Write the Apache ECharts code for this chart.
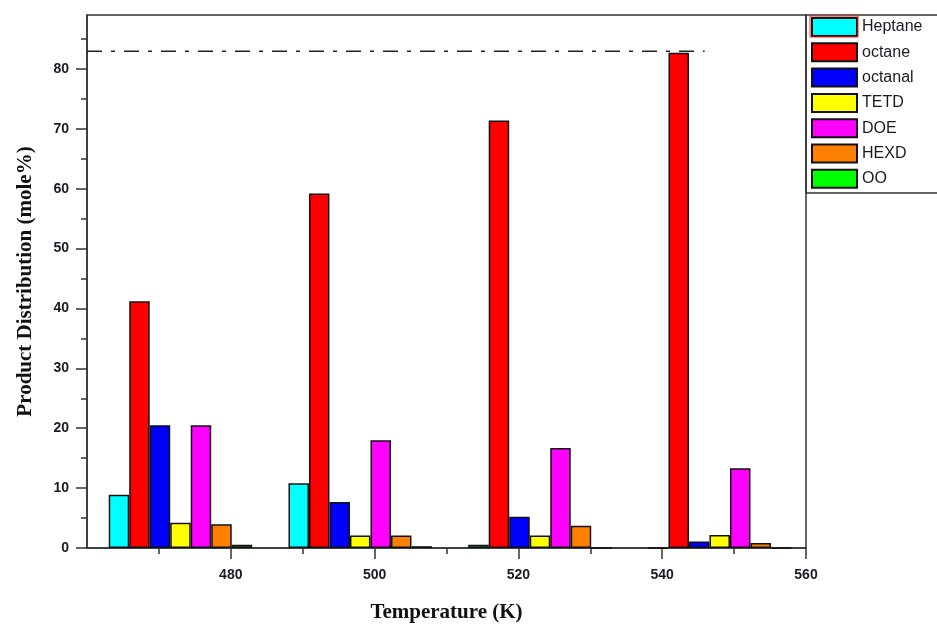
<!DOCTYPE html>
<html>
<head>
<meta charset="utf-8">
<script src="https://cdn.jsdelivr.net/npm/echarts@6/dist/echarts.min.js"></script>
<style>
  html, body { margin: 0; padding: 0; background: #ffffff; }
  #chart { width: 937px; height: 628px; }
</style>
</head>
<body>
<div id="chart"></div>
<script>
// Reaction temperatures (K) and product distribution (mole%) per product
const temperatures = [473, 498, 523, 548];
const xTicks = [480, 500, 520, 540, 560];
const yTicks = [0, 10, 20, 30, 40, 50, 60, 70, 80];

const productNames = ['Heptane', 'octane', 'octanal', 'TETD', 'DOE', 'HEXD', 'OO'];
const heptane = [8.9, 10.8, 0.55, 0];
const octane  = [41.2, 59.2, 71.4, 82.7];
const octanal = [20.5, 7.7, 5.2, 1.1];
const tetd    = [4.2, 2.1, 2.1, 2.15];
const doe     = [20.5, 18.0, 16.7, 13.3];
const hexd    = [3.95, 2.1, 3.7, 0.85];
const oo      = [0.55, 0.3, 0, 0];

// Reference level drawn as a dash-dot line across the plot
const referenceLevel = 82.95;
const referenceSpan = [460, 545.9];

const productValues = [heptane, octane, octanal, tetd, doe, hexd, oo];
const productColors = ['#00FFFF', '#FF0000', '#0000FF', '#FFFF00', '#FF00FF', '#FF8000', '#00FF00'];

const axisColor = '#333333';
const textColor = '#1a1a24';

const series = productNames.map((name, i) => ({
  name: name,
  type: 'bar',
  barWidth: 20.5,
  barGap: '0%',
  itemStyle: {
    color: productColors[i],
    borderColor: '#111111',
    borderWidth: 1.5
  },
  emphasis: { disabled: true },
  data: temperatures.map((t, k) => [t, productValues[i][k]])
}));

series.push({
  name: 'reference',
  type: 'line',
  silent: true,
  symbol: 'none',
  z: 5,
  lineStyle: { color: '#222222', width: 1.6, type: [15, 9, 4, 9] },
  data: referenceSpan.map(x => [x, referenceLevel])
});

const chart = echarts.init(document.getElementById('chart'), null, { renderer: 'canvas' });

chart.setOption({
  animation: false,
  backgroundColor: '#ffffff',
  grid: {
    left: 87,
    right: 131,
    top: 15,
    bottom: 79,
    show: true,
    borderColor: axisColor,
    borderWidth: 1.5,
    backgroundColor: 'transparent'
  },
  legend: {
    orient: 'vertical',
    left: 811,
    top: 17,
    padding: 0,
    itemWidth: 45,
    itemHeight: 18,
    itemGap: 5.3,
    icon: 'rect',
    selectedMode: false,
    data: productNames,
    textStyle: {
      fontFamily: 'Liberation Sans, Arial, sans-serif',
      fontSize: 16,
      color: textColor
    }
  },
  graphic: [
    {
      type: 'rect',
      silent: true,
      shape: { x: 806, y: 15, width: 140, height: 178 },
      style: { fill: 'none', stroke: axisColor, lineWidth: 1.5 }
    },
    {
      type: 'rect',
      silent: true,
      z: 100,
      shape: { x: 810, y: 16, width: 48, height: 21 },
      style: { fill: 'none', stroke: '#FF2020', lineWidth: 1 }
    }
  ],
  xAxis: {
    type: 'value',
    min: 460,
    max: 560,
    interval: 20,
    name: 'Temperature (K)',
    nameLocation: 'middle',
    nameGap: 54,
    nameTextStyle: {
      fontFamily: 'Liberation Serif, Times New Roman, serif',
      fontWeight: 'bold',
      fontSize: 21,
      color: '#111111'
    },
    axisLine: { show: true, onZero: false, lineStyle: { color: axisColor, width: 1.5 } },
    axisTick: { show: true, length: 11, customValues: xTicks, lineStyle: { color: axisColor, width: 1.5 } },
    minorTick: { show: true, splitNumber: 2, length: 6, lineStyle: { color: axisColor, width: 1.5 } },
    splitLine: { show: false },
    axisLabel: {
      customValues: xTicks,
      margin: 20,
      fontFamily: 'Liberation Sans, Arial, sans-serif',
      fontWeight: 'bold',
      fontSize: 14,
      color: textColor
    }
  },
  yAxis: {
    type: 'value',
    min: 0,
    max: 89,
    interval: 10,
    name: 'Product Distribution (mole%)',
    nameLocation: 'middle',
    nameRotate: 90,
    nameGap: 51,
    nameTextStyle: {
      fontFamily: 'Liberation Serif, Times New Roman, serif',
      fontWeight: 'bold',
      fontSize: 21,
      color: '#111111'
    },
    axisLine: { show: true, lineStyle: { color: axisColor, width: 1.5 } },
    axisTick: { show: true, length: 11, customValues: yTicks, lineStyle: { color: axisColor, width: 1.5 } },
    minorTick: { show: true, splitNumber: 2, length: 6, lineStyle: { color: axisColor, width: 1.5 } },
    splitLine: { show: false },
    axisLabel: {
      customValues: yTicks,
      margin: 18,
      fontFamily: 'Liberation Sans, Arial, sans-serif',
      fontWeight: 'bold',
      fontSize: 14,
      color: textColor
    }
  },
  series: series
});
</script>
</body>
</html>
